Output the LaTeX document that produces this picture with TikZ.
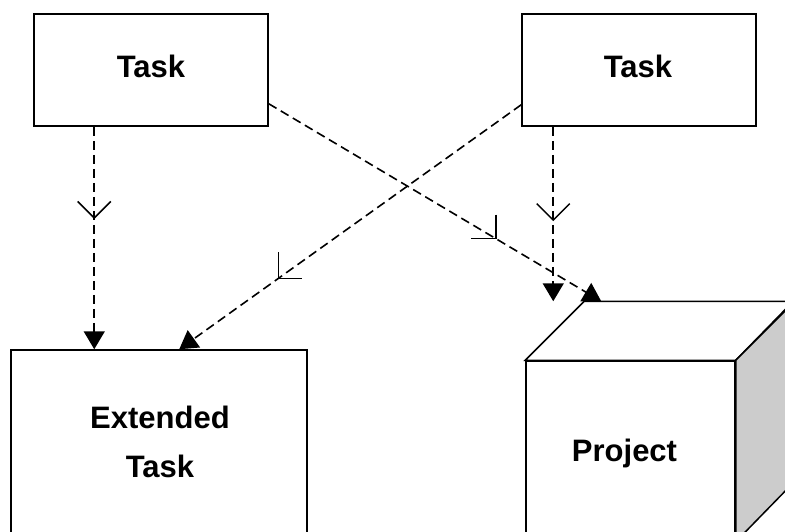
\documentclass[tikz,border=0pt]{standalone}
\usepackage{fontspec}
\setmainfont{Liberation Sans}
\usetikzlibrary{arrows.meta,calc}
\tikzset{
  box/.style={draw=black,line width=1.5pt,fill=white,rectangle,inner sep=0pt},
  lbl/.style={font=\fontsize{31}{49}\selectfont\bfseries,inner sep=0pt,anchor=base,align=center},
  dep/.style={draw=black,line width=1.6pt,dash pattern=on 9pt off 5pt,
    -{Triangle[length=18pt,width=21pt]}},
  barb/.style={draw=black,line width=1.5pt,solid}
}
% from, to, position, arm 1 offset, arm 2 offset
\newcommand\depmark[5]{%
  \coordinate (mk) at ($(#1)!#3!(#2)$);
  \draw[barb] ($(mk)+(#4)$) -- (mk) -- ($(mk)+(#5)$);
}
\begin{document}
\begin{tikzpicture}[x=1pt,y=-1pt]
\useasboundingbox (0,0) rectangle (785,531);
\clip (0,0) rectangle (785,531);
% boxes
\node[box,minimum width=234pt,minimum height=112pt] (tl) at (151,70) {};
\node[lbl] (tltext) at (151,77) {Task};
\node[box,minimum width=234pt,minimum height=112pt] (tr) at (639,70) {};
\node[lbl] (trtext) at (638,77) {Task};
\node[box,minimum width=296pt,minimum height=240pt] (ext) at (159,470) {};
\node[lbl] (exttext) at (160,477) {Extended\\Task};
% cube
\node[box,minimum width=209pt,minimum height=180pt] (proj) at (630.5,451) {};
\draw[line width=1.5pt,fill=white,line join=miter] (proj.north west) -- ++(59,-59) -- ++(209,0) -- (proj.north east) -- cycle;
\draw[line width=1.5pt,fill=black!20,line join=miter] (proj.north east) -- ++(59,-59) -- ++(0,180) -- (proj.south east) -- cycle;
\node[lbl] (projtext) at (624.5,461) {Project};
\coordinate (ptop) at ([yshift=59pt]proj.north);
% connectors
\coordinate (a1) at ([xshift=61pt]tl.south west);
\coordinate (a2) at (a1 |- ext.north);
\draw[dep] (a1) -- (a2);
\depmark{a1}{a2}{0.41}{-16.5,-16.5}{16.5,-16.5}
\coordinate (b1) at ([xshift=32pt]tr.south west);
\coordinate (b2) at (b1 |- ptop);
\draw[dep] (b1) -- (b2);
\depmark{b1}{b2}{0.535}{-16.5,-16.5}{16.5,-16.5}
\coordinate (c1) at ([yshift=22pt]tr.south west);
\coordinate (c2) at ([xshift=169pt]ext.north west);
\draw[dep] (c1) -- (c2);
\depmark{c1}{c2}{0.71}{0,-26}{24,0}
\coordinate (d1) at ([yshift=23pt]tl.south east);
\coordinate (d2) at ([xshift=76pt]proj.north west |- ptop);
\draw[dep] (d1) -- (d2);
\depmark{d1}{d2}{0.683}{0,-24}{-25,0}
\end{tikzpicture}
\end{document}
